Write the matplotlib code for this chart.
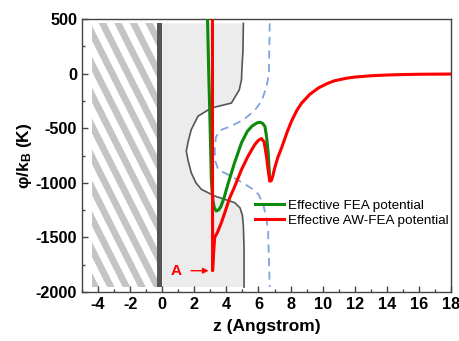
import numpy as np
import matplotlib
matplotlib.use("Agg")
import matplotlib.pyplot as plt
from matplotlib.patches import Rectangle, Polygon
from matplotlib.ticker import MultipleLocator

plt.rcParams['font.family'] = ['Liberation Sans', 'DejaVu Sans']
plt.rcParams['axes.unicode_minus'] = False
plt.rcParams['mathtext.fontset'] = 'custom'
plt.rcParams['mathtext.rm'] = 'Liberation Sans'
plt.rcParams['mathtext.bf'] = 'Liberation Sans:bold'
plt.rcParams['mathtext.it'] = 'Liberation Sans:italic'

# ---- data ----
fea_z = [2.81, 2.9, 2.96, 3.02, 3.06, 3.12, 3.17, 3.25, 3.37, 3.5, 3.65, 3.85, 4.1, 4.5, 4.94, 5.3, 5.6, 5.9, 6.08, 6.25, 6.4, 6.5, 6.6, 6.7]
fea_phi = [600, 0, -330, -700, -969, -1100, -1170, -1230, -1258, -1250, -1220, -1140, -1010, -820, -634, -530, -480, -452, -445, -455, -483, -574, -720, -960]

aw_z = [3.13, 3.14, 3.2, 3.27, 3.44, 3.7, 3.9, 4.2, 4.5, 4.94, 5.35, 5.77, 6.0, 6.19, 6.35, 6.5, 6.6, 6.7, 6.8, 6.9, 7.0, 7.2, 7.44, 7.8, 8.06, 8.4, 8.69, 9.2, 9.75, 10.3, 10.75, 11.5, 12.0, 13.0, 14.0, 14.9, 16.0, 18.0]
aw_phi = [600, -1805, -1650, -1501, -1455, -1360, -1273, -1140, -1040, -880, -756, -650, -610, -595, -625, -760, -880, -985, -980, -935, -870, -770, -680, -530, -435, -335, -270, -190, -130, -90, -65, -42, -32, -20, -13, -9, -6, -4]

bnd_phi = [460, 200, 50, -57, -150, -270, -315, -390, -513, -620, -710, -800, -908, -1000, -1060, -1121, -1182, -1230, -1300, -1400, -1600, -1955]
bnd_z = [5.06, 5.03, 4.97, 4.94, 4.8, 4.31, 3.06, 2.23, 1.81, 1.62, 1.5, 1.62, 1.81, 2.1, 2.44, 3.27, 4.52, 4.85, 5.0, 5.06, 5.1, 5.1]

ref_phi = [460, 0, -120, -250, -330, -420, -480, -520, -580, -700, -800, -880, -940, -1000, -1050, -1105, -1200, -1330, -1450, -1955]
ref_z = [6.7, 6.65, 6.5, 6.2, 5.8, 5.1, 4.3, 3.6, 3.35, 3.27, 3.3, 3.5, 4.3, 5.0, 5.56, 6.0, 6.3, 6.5, 6.6, 6.7]

x_ticks = [-4, -2, 0, 2, 4, 6, 8, 10, 12, 14, 16, 18]
y_ticks = [500, 0, -500, -1000, -1500, -2000]
labels = ['Effective FEA potential', 'Effective AW-FEA potential']

fig = plt.figure(figsize=(4.59, 3.41), dpi=100)
ax = fig.add_axes([82/459, 1-292/341, (451-82)/459, (292-19)/341])
ax.set_xlim(-5, 18)
ax.set_ylim(-2000, 500)

# hatched wall region (decoration)
x0, x1, ybot, ytop = -4.4, -0.3, -1955, 463
clip = Rectangle((x0, ybot), x1 - x0, ytop - ybot, facecolor='white', edgecolor='none', zorder=1)
ax.add_patch(clip)
pxu = 16.0       # px per z unit
pyu = 0.1096     # px per K
period = 15.5 / pxu
width = 7.5 / pxu
slope_dz = (ytop - ybot) * pyu / 2.0 / pxu
a = x0 - slope_dz - period
while a < x1 + period:
    poly = Polygon([(a, ytop), (a + width, ytop), (a + width + slope_dz, ybot), (a + slope_dz, ybot)],
                   closed=True, facecolor='#c4c4c4', edgecolor='none', zorder=1.5)
    ax.add_patch(poly)
    poly.set_clip_path(clip)
    a += period
ax.add_patch(Rectangle((-0.3, ybot), 0.3, ytop - ybot, facecolor='#555555', edgecolor='none', zorder=2))

# light gray region
ax.fill_betweenx(bnd_phi, 0, bnd_z, facecolor='#ececec', edgecolor='none', zorder=1)
ax.plot(bnd_z, bnd_phi, color='#555555', lw=1.2, zorder=3)
ax.plot(ref_z, ref_phi, color='#7fa3e0', lw=1.3, ls=(0, (4.5, 3)), zorder=3)

ax.plot(fea_z, fea_phi, color='#0b8a0b', lw=2.2, zorder=4, label=labels[0])
ax.plot(aw_z, aw_phi, color='#ff0000', lw=2.2, zorder=5, label=labels[1], solid_joinstyle='round')

ax.annotate('A', xy=(aw_z[1] - 0.25, aw_phi[1]), xytext=(0.85, aw_phi[1]),
            color='#ff0000', fontsize=11, fontweight='bold', va='center', ha='center',
            arrowprops=dict(arrowstyle='-|>', color='#ff0000', lw=1.0, mutation_scale=8,
                            shrinkA=5, shrinkB=0), zorder=6)

ax.set_xticks(x_ticks)
ax.set_yticks(y_ticks)
ax.xaxis.set_minor_locator(MultipleLocator(1))
ax.yaxis.set_minor_locator(MultipleLocator(250))
ax.tick_params(which='both', direction='in', top=False, right=False, color='#444444', labelsize=11.7)
ax.tick_params(which='major', length=4, width=1)
ax.tick_params(which='minor', length=2.5, width=1)
for lab in ax.get_xticklabels() + ax.get_yticklabels():
    lab.set_fontweight('bold')
for s in ax.spines.values():
    s.set_color('#444444')
    s.set_linewidth(1.0)

ax.set_xlabel('z (Angstrom)', fontsize=12.5, fontweight='bold', labelpad=5)
ax.set_ylabel('φ/k$_\\mathbf{B}$ (K)', fontsize=12.5, fontweight='bold', labelpad=1)

leg = ax.legend(loc='upper left', bbox_to_anchor=(0.455, 0.36), frameon=False, fontsize=9.7,
                handlelength=2.1, handletextpad=0.3, labelspacing=0.2, borderaxespad=0)

fig.savefig('out.png', dpi=100)
